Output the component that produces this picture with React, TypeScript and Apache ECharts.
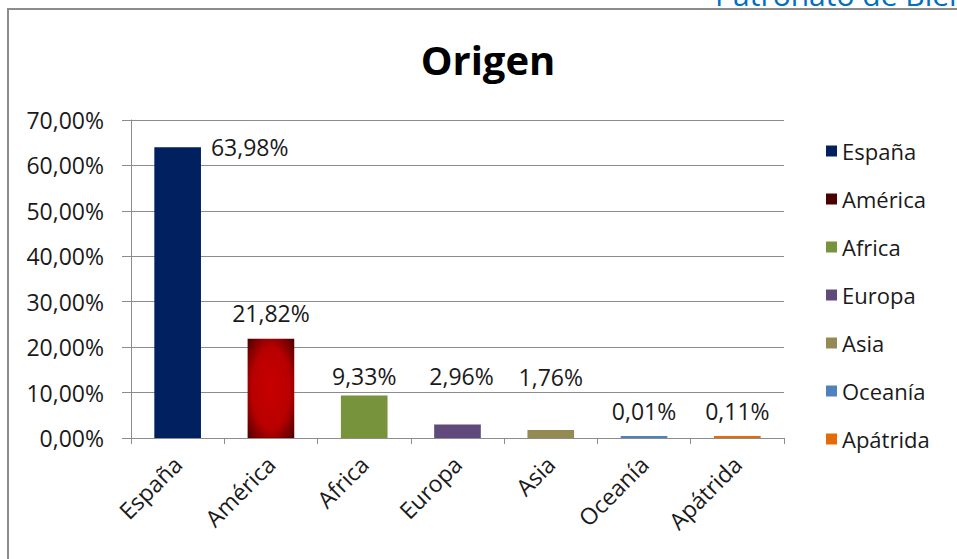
import React, { useEffect, useRef } from "react";
import * as echarts from "echarts";

const categories = ["España", "América", "Africa", "Europa", "Asia", "Oceanía", "Apátrida"];
const values = [63.98, 21.82, 9.33, 2.96, 1.76, 0.01, 0.11];
const yTicks = [0, 10, 20, 30, 40, 50, 60, 70];

const FONT = "Open Sans";
const barColors: any[] = [
  "#002060",
  new echarts.graphic.RadialGradient(0.5, 0.5, 0.75, [
    { offset: 0, color: "#c80000" },
    { offset: 0.55, color: "#b80000" },
    { offset: 1, color: "#3a0000" },
  ]),
  "#77933c",
  "#604a7b",
  "#948a54",
  "#4f81bd",
  "#e36c09",
];
const legendColors = ["#002060", "#4a0000", "#77933c", "#604a7b", "#948a54", "#4f81bd", "#e36c09"];
const labelOffsets: number[][] = [[10, 0], [0, -9], [0, -3], [4, -32], [0, -37], [0, -9], [0, -9]];

const fmt = (v: number) => v.toFixed(2).replace(".", ",") + "%";

export default function App() {
  const ref = useRef<HTMLDivElement>(null);
  useEffect(() => {
    document.body.style.margin = "0";
    const chart = echarts.init(ref.current!, null, { renderer: "svg" });
    const series = categories.map((name, i) => ({
      name,
      type: "bar",
      stack: "all",
      barWidth: "50%",
      barMinHeight: 2,
      data: categories.map((_, j) => (j === i ? values[i] : null)),
      itemStyle: { color: barColors[i] },
      label: {
        show: true,
        position: i === 0 ? ["100%", 0] : "top",
        align: i === 0 ? "left" : "center",
        verticalAlign: i === 0 ? "middle" : "bottom",
        distance: 5,
        offset: labelOffsets[i],
        fontFamily: FONT,
        fontSize: 23,
        color: "#1a1a1a",
        formatter: (p: any) => fmt(p.value),
      },
    }));
    chart.setOption({
      animation: false,
      backgroundColor: "#ffffff",
      color: legendColors,
      graphic: [
        {
          type: "rect",
          shape: { x: 8, y: 9, width: 1200, height: 800 },
          style: { fill: "none", stroke: "#8c8c8c", lineWidth: 2 },
          silent: true,
        },
        {
          type: "text",
          x: 715,
          y: 9,
          style: {
            text: "Patronato de Bienestar Social",
            fontFamily: FONT,
            fontSize: 30,
            fill: "#0070c0",
            verticalAlign: "bottom",
          },
        },
        {
          type: "text",
          x: 488,
          y: 59,
          style: {
            text: "Origen",
            fontFamily: FONT,
            fontWeight: "bold",
            fontSize: 40,
            fill: "#000000",
            align: "center",
            verticalAlign: "middle",
          },
        },
      ],
      legend: {
        orient: "vertical",
        left: 826,
        top: 140,
        padding: 0,
        itemWidth: 11,
        itemHeight: 11,
        itemGap: 26,
        icon: "rect",
        data: categories.map((name, i) => ({ name, itemStyle: { color: legendColors[i] } })),
        textStyle: { fontFamily: FONT, fontSize: 22, color: "#1a1a1a", lineHeight: 22 },
      },
      grid: { left: 131, right: 173, top: 120, bottom: 121 },
      xAxis: {
        type: "category",
        data: categories,
        axisLine: { lineStyle: { color: "#8c8c8c", width: 1 } },
        axisTick: { show: true, length: 6, lineStyle: { color: "#8c8c8c" } },
        axisLabel: { rotate: 45, margin: 22, fontFamily: FONT, fontSize: 23, color: "#1a1a1a" },
      },
      yAxis: {
        type: "value",
        min: yTicks[0],
        max: yTicks[yTicks.length - 1],
        interval: 10,
        axisLine: { show: true, lineStyle: { color: "#8c8c8c" } },
        axisTick: { show: true, length: 9, lineStyle: { color: "#8c8c8c" } },
        splitLine: { lineStyle: { color: "#8c8c8c" } },
        axisLabel: {
          margin: 27,
          fontFamily: FONT,
          fontSize: 23,
          color: "#1a1a1a",
          formatter: (v: number) => fmt(v),
        },
      },
      series,
    });
    return () => chart.dispose();
  }, []);
  return (
    <div
      ref={ref}
      style={{ position: "fixed", left: 0, top: 0, width: 957, height: 559 }}
    />
  );
}
